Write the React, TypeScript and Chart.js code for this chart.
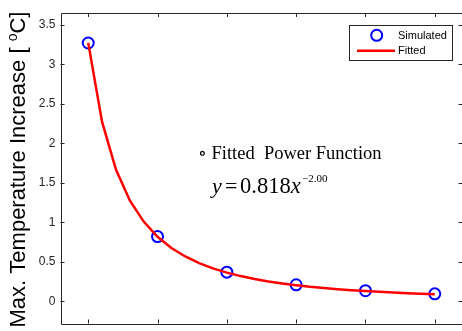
import React, { useEffect, useRef } from "react";
import { Chart, registerables } from "chart.js";

Chart.register(...registerables);

const simX = [0.5, 1.0, 1.5, 2.0, 2.5, 3.0];
const simY = [3.27, 0.82, 0.37, 0.21, 0.135, 0.095];

const fitX = [0.5, 0.6, 0.7, 0.8, 0.9, 1.0, 1.1, 1.2, 1.3, 1.4, 1.5, 1.6, 1.7, 1.8, 1.9, 2.0, 2.1, 2.2, 2.3, 2.4, 2.5, 2.6, 2.7, 2.8, 2.9, 3.0];
const fitY = [3.272, 2.272, 1.669, 1.278, 1.010, 0.818, 0.676, 0.568, 0.484, 0.417, 0.364, 0.320, 0.283, 0.252, 0.227, 0.205, 0.185, 0.169, 0.155, 0.142, 0.131, 0.121, 0.112, 0.104, 0.097, 0.091];

const xTicks = [0.5, 1.0, 1.5, 2.0, 2.5, 3.0];
const yTicks = [0, 0.5, 1, 1.5, 2, 2.5, 3, 3.5];

const seriesLabels = ["Simulated", "Fitted"];
const yTitleMain = "Max. Temperature Increase [ ";
const yTitleSup = "o";
const yTitleEnd = "C]";
const annotTitle = "Fitted  Power Function";
const eqCoef = "0.818";
const eqExp = "\u22122.00";

const AXIS = "#262626";
const SANS = "'Liberation Sans', Arial, sans-serif";
const SERIF = "'Liberation Serif', 'Times New Roman', serif";

const framePlugin = {
  id: "frameAndText",
  afterDatasetsDraw(chart: any) {
    const { ctx, chartArea } = chart;
    const xs = chart.scales.x;
    const ys = chart.scales.y;
    const { left, right, top, bottom } = chartArea;
    ctx.save();
    // frame
    ctx.strokeStyle = AXIS;
    ctx.lineWidth = 1;
    ctx.beginPath();
    ctx.rect(Math.round(left) + 0.5, Math.round(top) + 0.5, Math.round(right - left), Math.round(bottom - top));
    ctx.stroke();
    // inward ticks
    const tl = 4;
    ctx.beginPath();
    xTicks.forEach((v) => {
      const px = Math.round(xs.getPixelForValue(v)) + 0.5;
      ctx.moveTo(px, bottom);
      ctx.lineTo(px, bottom - tl);
      ctx.moveTo(px, top);
      ctx.lineTo(px, top + tl);
    });
    yTicks.forEach((v) => {
      const py = Math.round(ys.getPixelForValue(v)) + 0.5;
      ctx.moveTo(left, py);
      ctx.lineTo(left + tl, py);
      ctx.moveTo(right, py);
      ctx.lineTo(right - tl, py);
    });
    ctx.stroke();

    // y title
    ctx.save();
    ctx.fillStyle = "#000";
    ctx.textBaseline = "alphabetic";
    ctx.textAlign = "left";
    const mainFont = `22px ${SANS}`;
    const supFont = `14px ${SANS}`;
    ctx.font = mainFont;
    const w1 = ctx.measureText(yTitleMain).width;
    const w3 = ctx.measureText(yTitleEnd).width;
    ctx.font = supFont;
    const w2 = ctx.measureText(yTitleSup).width;
    const total = w1 + w2 + w3;
    ctx.translate(25, 169.5);
    ctx.rotate(-Math.PI / 2);
    let x0 = -total / 2;
    ctx.font = mainFont;
    ctx.fillText(yTitleMain, x0, 0);
    x0 += w1;
    ctx.font = supFont;
    ctx.fillText(yTitleSup, x0, -8);
    x0 += w2;
    ctx.font = mainFont;
    ctx.fillText(yTitleEnd, x0, 0);
    ctx.restore();

    // legend
    const ds = chart.data.datasets;
    ctx.save();
    ctx.fillStyle = "#fff";
    ctx.fillRect(349.5, 25.5, 103, 35);
    ctx.strokeStyle = AXIS;
    ctx.lineWidth = 1;
    ctx.strokeRect(349.5, 25.5, 103, 35);
    ctx.strokeStyle = ds[0].borderColor;
    ctx.lineWidth = 2;
    ctx.beginPath();
    ctx.arc(376.7, 35.3, 5.5, 0, Math.PI * 2);
    ctx.stroke();
    ctx.strokeStyle = ds[1].borderColor;
    ctx.lineWidth = 2.5;
    ctx.beginPath();
    ctx.moveTo(357, 50.7);
    ctx.lineTo(395, 50.7);
    ctx.stroke();
    ctx.fillStyle = "#000";
    ctx.font = `11px ${SANS}`;
    ctx.textBaseline = "middle";
    ctx.fillText(ds[0].label, 398, 35.5);
    ctx.fillText(ds[1].label, 398, 50.5);
    ctx.restore();

    // annotation
    ctx.save();
    ctx.fillStyle = "#000";
    ctx.textBaseline = "alphabetic";
    ctx.font = `18px 'DejaVu Serif', serif`;
    ctx.fillText("\u2218", 198, 159);
    ctx.font = `18.5px ${SERIF}`;
    ctx.fillText(annotTitle, 211.5, 158.5);
    ctx.font = `italic 22px ${SERIF}`;
    ctx.fillText("y", 212, 193);
    ctx.font = `22px ${SERIF}`;
    ctx.fillText("=", 225, 193);
    ctx.font = `22.5px ${SERIF}`;
    ctx.fillText(eqCoef, 240, 193);
    const cw = ctx.measureText(eqCoef).width;
    ctx.font = `italic 22.5px ${SERIF}`;
    ctx.fillText("x", 240 + cw, 193);
    const xw = ctx.measureText("x").width;
    ctx.font = `11px ${SERIF}`;
    ctx.fillText(eqExp, 240 + cw + xw + 1.5, 182);
    ctx.restore();

    ctx.restore();
  },
};

export default function App() {
  const ref = useRef<HTMLCanvasElement | null>(null);
  useEffect(() => {
    if (!ref.current) return;
    Chart.defaults.font.family = SANS;
    const chart = new Chart(ref.current, {
      type: "scatter",
      data: {
        datasets: [
          {
            label: seriesLabels[0],
            data: simX.map((x, i) => ({ x, y: simY[i] })),
            showLine: false,
            pointRadius: 5.5,
            pointHoverRadius: 5.5,
            borderColor: "#0000ff",
            backgroundColor: "rgba(0,0,0,0)",
            borderWidth: 2,
            order: 1,
          },
          {
            label: seriesLabels[1],
            data: fitX.map((x, i) => ({ x, y: fitY[i] })),
            showLine: true,
            pointRadius: 0,
            borderColor: "#ff0000",
            backgroundColor: "#ff0000",
            borderWidth: 2.5,
            tension: 0,
            order: 0,
          },
        ],
      },
      options: {
        animation: false,
        responsive: false,
        events: [],
        layout: { padding: { left: 0, top: 13, right: 6, bottom: 7 } },
        plugins: { legend: { display: false }, tooltip: { enabled: false } },
        scales: {
          x: {
            type: "linear",
            min: 0.3,
            max: 3.2,
            display: false,
          },
          y: {
            type: "linear",
            min: -0.28,
            max: 3.65,
            grid: { display: false, drawTicks: false },
            border: { display: false },
            afterBuildTicks: (scale: any) => {
              scale.ticks = yTicks.map((v) => ({ value: v }));
            },
            afterFit: (scale: any) => {
              scale.width = 60.5;
              scale.paddingTop = 0;
              scale.paddingBottom = 0;
            },
            ticks: {
              color: AXIS,
              padding: 5,
              font: { size: 12, family: SANS },
              callback: (v: any) => String(v),
            },
          },
        },
      },
      plugins: [framePlugin],
    });
    return () => chart.destroy();
  }, []);
  return (
    <div style={{ position: "fixed", left: 0, top: 0, width: 462, height: 331, overflow: "hidden", background: "#fff" }}>
      <canvas ref={ref} width={470} height={331} style={{ display: "block" }} />
    </div>
  );
}
